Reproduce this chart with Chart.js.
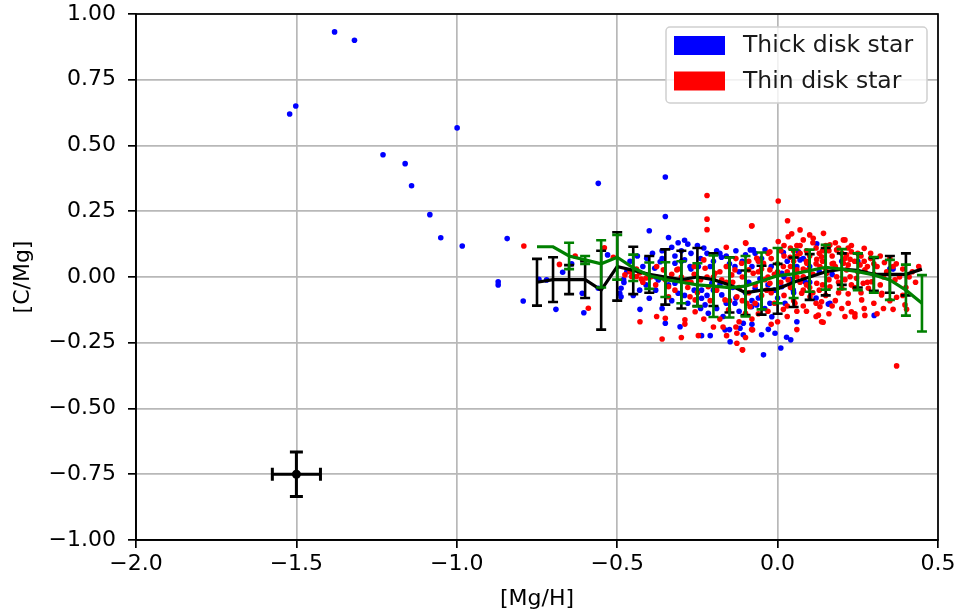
<!DOCTYPE html>
<html>
<head>
<meta charset="utf-8">
<script src="https://cdn.jsdelivr.net/npm/chart.js@4.4.1/dist/chart.umd.min.js"></script>
<style>
html,body{margin:0;padding:0;background:#fff;}
canvas{display:block;}
</style>
</head>
<body>
<canvas id="c" width="958" height="616"></canvas>
<script>
// ---------- data ----------
const seriesLabels = ["Thick disk star", "Thin disk star"];
const xTicks = [-2.0, -1.5, -1.0, -0.5, 0.0, 0.5];
const yTicks = [-1.00, -0.75, -0.50, -0.25, 0.00, 0.25, 0.50, 0.75, 1.00];

// thick disk stars [ [Mg/H], [C/Mg] ]
const thickDisk = [
[-1.381,0.932],[-1.319,0.900],[-1.502,0.650],[-1.521,0.620],[-0.999,0.567],[-1.230,0.465],[-1.161,0.431],
[-1.141,0.347],[-1.084,0.237],[-1.050,0.149],[-0.983,0.118],[-0.843,0.146],[-0.871,-0.018],[-0.871,-0.030],
[-0.793,-0.091],[-0.691,-0.123],[-0.670,0.018],[-0.744,-0.009],[-0.720,-0.011],
[-0.559,0.356],[-0.400,0.176],[-0.530,0.084],[-0.437,0.080],[-0.642,0.050],[-0.609,-0.062],[-0.604,-0.136],
[-0.559,-0.043],[-0.488,-0.043],[-0.488,-0.075],[-0.480,-0.010],[-0.492,-0.062],[-0.479,-0.021],[-0.429,-0.123],
[-0.400,-0.081],[-0.408,0.071],[-0.383,0.033],
[-0.35,0.38],[-0.35,0.23],[-0.34,0.15],[-0.28,0.125],[-0.30,0.10],[-0.33,0.113],[-0.22,0.09],[-0.18,0.09],
[-0.175,0.075],[-0.085,0.103],[-0.10,0.084],[-0.36,0.07],[-0.366,0.058],[-0.32,0.052],[-0.29,0.065],[-0.273,0.04],
[-0.247,0.04],[-0.133,0.04],[-0.205,-0.024],[-0.372,-0.011],[-0.32,-0.024],[-0.31,-0.062],[-0.237,-0.05],
[-0.226,-0.106],[-0.237,-0.081],[-0.174,-0.068],[-0.133,-0.1],[-0.081,-0.113],[-0.216,-0.138],[-0.35,-0.176],
[-0.304,-0.189],[-0.164,-0.201],[-0.117,-0.195],[-0.107,-0.176],[-0.237,-0.223],[-0.21,-0.223],[-0.148,-0.246],
[-0.107,-0.22],
[0.122,0.126],[-0.076,0.103],[-0.039,0.103],[0.018,0.093],[0.065,0.096],[0.07,0.065],[0.013,0.014],[-0.055,-0.007],
[0.085,-0.018],[-0.07,-0.043],[0.013,-0.037],[0.049,-0.05],[0.163,-0.1],[-0.065,-0.106],[-0.024,-0.1],[-0.018,-0.151],
[0.023,-0.1],[-0.029,-0.199],[-0.008,-0.214],[0.028,-0.229],[0.041,-0.239],[-0.044,-0.296],[0.158,-0.103],
[0.35,0.031],[0.301,-0.146],
[-0.25,0.12],[-0.27,0.09],[-0.31,0.13],[-0.29,0.14],[-0.23,0.11],[-0.2,0.06],[-0.15,0.05],[-0.12,0.02],[-0.09,-0.02],
[-0.14,-0.04],[-0.18,-0.03],[-0.22,-0.07],[-0.26,-0.05],[-0.28,-0.1],[-0.33,-0.09],[-0.36,-0.12],[-0.19,-0.12],
[-0.12,-0.13],[-0.06,-0.08],[-0.04,-0.12],[0.0,-0.08],[0.04,-0.01],[0.06,0.04],[0.1,-0.02],[0.13,0.02],[-0.02,0.04],
[-0.07,0.09],[0.03,0.06],[0.17,0.01],[0.12,-0.08],[0.25,0.06],[-0.17,-0.15],[-0.08,-0.18],[-0.05,-0.22],[0.06,-0.17],
[0.01,-0.27],[-0.15,-0.2],[-0.45,-0.07],[-0.46,0.06],[-0.41,-0.03],[-0.39,0.09],[-0.38,-0.05],[-0.36,0.1],[-0.42,0.04],
[-0.32,0.08],[-0.3,0.06],[-0.27,0.03],[-0.24,0.07],[-0.21,0.04],[-0.19,0.1],[-0.16,0.08],[-0.13,0.1],[-0.11,0.06],
[-0.08,0.04],[-0.05,0.07],[-0.03,-0.03],[-0.1,-0.06],[-0.13,-0.08],[-0.16,-0.1],[-0.2,-0.05],[-0.24,-0.12],[-0.29,-0.07],
[-0.34,-0.03],[-0.38,0.0],[-0.43,-0.05],[-0.47,0.02],[0.02,0.0],[0.05,-0.06],[0.08,0.07],[0.1,0.04],[-0.01,-0.05],
[-0.08,-0.09],[0.2,0.06],[0.36,0.03]
];

// thin disk stars
const thinDisk = [
[-0.791,0.118],[-0.680,0.048],[-0.631,0.080],[-0.540,0.111],[-0.512,0.075],[-0.590,-0.119],[-0.429,-0.170],
[-0.22,0.31],[-0.22,0.22],[-0.22,0.18],[-0.16,0.113],[-0.10,0.13],[-0.08,0.195],[-0.377,0.04],[-0.356,0.027],
[-0.314,0.027],[-0.23,0.065],[-0.226,0.033],[-0.133,0.027],[-0.112,0.052],[-0.143,0.008],[-0.09,0.027],[-0.195,0.014],
[-0.174,-0.011],[-0.216,-0.037],[-0.34,-0.037],[-0.283,-0.018],[-0.34,-0.075],[-0.273,-0.075],[-0.257,-0.087],
[-0.164,-0.087],[-0.127,-0.075],[-0.096,-0.1],[-0.153,-0.125],[-0.10,-0.138],[-0.257,-0.132],[-0.377,-0.15],
[-0.35,-0.157],[-0.289,-0.163],[-0.289,-0.179],[-0.127,-0.214],[-0.247,-0.223],[-0.30,-0.23],[-0.36,-0.236],
[-0.127,-0.252],[-0.11,-0.277],[-0.159,-0.223],
[-0.476,0.008],[-0.455,0.002],[-0.44,0.002],[-0.425,-0.008],[-0.41,-0.004],[-0.395,0.001],[-0.46,0.02],[-0.43,0.015],
[0.002,0.289],[0.031,0.214],[0.07,0.179],[-0.081,0.194],[0.002,0.135],[0.033,0.153],[0.044,0.164],[0.08,0.141],
[0.111,0.147],[0.143,0.166],[0.205,0.141],[0.163,0.122],[0.184,0.103],[-0.024,0.096],[0.039,0.075],[0.122,0.067],
[0.137,0.077],[0.091,0.052],[-0.065,0.071],[-0.044,0.052],[-0.024,0.027],[0.018,0.04],[0.06,0.027],[0.096,0.027],
[0.132,0.04],[0.174,0.052],[0.205,0.052],[0.215,0.027],[0.153,0.014],[0.184,0.001],[-0.076,0.014],[0.033,-0.011],
[0.08,0.001],[0.122,-0.024],[-0.024,-0.024],[-0.034,-0.05],[0.075,-0.062],[0.163,-0.037],[0.20,-0.043],[0.137,-0.094],
[0.132,-0.113],[0.127,-0.145],[0.137,-0.17],[-0.086,-0.113],[0.054,-0.1],[0.018,-0.123],[-0.078,-0.201],[0.08,-0.05],
[0.101,-0.075],[0.142,-0.172],[-0.109,-0.277],[-0.081,-0.2],[-0.099,0.128],
[0.27,0.109],[0.21,0.141],[0.23,0.096],[0.215,0.084],[0.226,0.067],[0.22,0.046],[0.257,0.046],[0.333,0.055],
[0.272,0.027],[0.226,0.001],[0.246,-0.005],[0.267,-0.024],[0.283,-0.043],[0.293,-0.018],[0.324,-0.068],[0.23,-0.03],
[0.22,-0.064],[0.262,-0.087],[0.371,-0.077],[0.36,-0.123],[0.397,-0.106],[0.402,-0.123],[0.23,-0.132],[0.241,-0.14],
[0.241,-0.151],[0.272,-0.146],[0.371,-0.338],[0.366,-0.011],[0.325,-0.062],
[-0.06,0.06],[-0.05,0.03],[-0.04,-0.01],[-0.02,0.07],[-0.01,0.01],[0.0,0.05],[0.01,-0.02],[0.02,0.08],[0.03,0.02],
[0.04,-0.04],[0.05,0.06],[0.06,0.0],[0.07,0.09],[0.08,0.03],[0.09,-0.03],[0.10,0.08],[0.11,0.01],[0.12,0.05],
[0.13,-0.05],[0.14,0.1],[0.15,0.03],[0.16,-0.01],[0.17,0.08],[0.18,0.04],[0.19,-0.02],[0.20,0.09],[0.21,-0.01],
[0.22,0.11],[0.24,0.06],[0.25,0.02],[0.26,0.08],[0.28,0.04],[0.29,0.07],[0.30,0.01],[0.31,0.04],[0.32,-0.03],
[0.34,0.02],[0.36,0.04],[0.38,0.0],[0.40,-0.04],[0.42,0.02],[0.06,0.12],[0.09,0.1],[0.12,0.11],[0.15,0.12],
[0.18,0.13],[0.10,0.16],[0.05,0.1],[0.02,0.12],[-0.03,0.09],[-0.07,-0.03],[-0.05,-0.07],[-0.02,-0.06],[0.02,-0.07],
[0.05,-0.09],[0.08,-0.11],[0.11,-0.06],[0.15,-0.07],[0.18,-0.09],[0.22,-0.1],[0.26,-0.06],[0.3,-0.1],[0.33,-0.12],
[0.16,-0.14],[0.2,-0.12],[-0.12,-0.04],[-0.14,-0.02],[-0.16,0.04],[-0.18,0.02],[-0.19,-0.05],[-0.2,0.0],[-0.24,-0.01],
[-0.26,0.01],[-0.28,-0.04],[-0.3,0.0],[-0.32,-0.05],[-0.11,0.0],[-0.09,0.06],[-0.13,0.07],[-0.15,-0.09],[-0.12,-0.17],
[-0.08,-0.16],[-0.06,-0.14],[-0.03,-0.13],[0.0,-0.17],[0.03,-0.15],[0.06,-0.13],[-0.10,-0.23],[-0.13,-0.19],
[-0.18,-0.16],[-0.2,-0.19],[-0.42,-0.02],[-0.44,0.03],[-0.35,-0.01],[-0.31,0.03],[-0.26,0.04],
[0.01,0.1],[0.04,0.11],[0.07,0.12],[0.11,0.13],[0.13,0.09],[0.16,0.1],[0.19,0.11],[0.21,0.07],[0.23,0.12],[0.25,0.09],
[0.27,0.06],[0.3,0.05],[0.32,0.08],[0.35,0.07],[0.37,0.05],[0.39,0.03],[0.41,0.0],[0.43,-0.02],[0.44,0.04],[0.33,0.0],
[0.28,-0.02],[0.24,-0.04],[0.19,-0.06],[0.14,-0.03],[0.1,-0.04],[0.07,-0.02],[0.04,0.04],[0.0,0.02],[-0.03,0.0],
[-0.06,0.02],[-0.09,-0.06],[-0.11,-0.09],[-0.07,-0.1],[-0.01,-0.1],[0.03,-0.11],[0.09,-0.13],[0.12,-0.1],[0.17,-0.11],
[0.21,-0.15],[0.27,-0.12],[0.31,-0.14],[0.35,-0.09],[0.39,-0.07],[0.29,0.09],[0.17,0.05],[0.14,0.06],[0.09,0.06],
[0.06,0.08],[0.12,-0.15],[0.06,-0.2],[-0.02,-0.18],[-0.16,-0.02],[-0.22,0.0],[-0.27,-0.02],[-0.33,0.01],[-0.38,-0.03],
[-0.25,-0.06],[-0.21,-0.09],[-0.17,-0.19],[-0.23,-0.16]
];

// binned trends
const binX = [-0.75,-0.70,-0.65,-0.60,-0.55,-0.50,-0.45,-0.40,-0.35,-0.30,-0.25,-0.20,-0.15,-0.10,-0.05,0.00,0.05,0.10,0.15,0.20,0.25,0.30,0.35,0.40,0.45];
const blackMean = [-0.02,-0.01,-0.01,-0.01,-0.05,0.04,0.025,0.01,0.00,-0.01,0.00,-0.01,-0.03,-0.06,-0.05,-0.045,-0.02,0.00,0.02,0.03,0.025,0.01,0.01,0.01,0.03];
const blackErr  = [0.089,0.085,0.055,0.07,0.15,0.13,0.09,0.07,0.105,0.11,0.11,0.10,0.105,0.085,0.093,0.095,0.094,0.087,0.09,0.06,0.065,0.062,0.07,0.08,null];
const greenMean = [0.115,0.115,0.08,0.065,0.05,0.075,0.035,0.005,-0.01,-0.02,-0.03,-0.035,-0.04,-0.035,-0.015,0.005,0.012,0.024,0.037,0.03,0.02,0.008,-0.011,-0.05,-0.10];
const greenErr  = [null,null,0.05,0.015,0.09,0.085,0.05,0.05,0.066,0.08,0.082,0.117,0.114,0.115,0.108,0.105,0.092,0.08,0.085,0.076,0.07,0.068,0.076,0.097,0.107];

// typical uncertainty marker
const refPoint = [-1.5, -0.75];
const refXErr = 0.075;
const refYErr = 0.085;

// ---------- helpers ----------
const FONT = "'DejaVu Sans', sans-serif";
const fmt = (v, d) => {
  if (Math.abs(v) < 1e-9) v = 0;
  return v.toFixed(d).replace('-', '\u2212');
};
const toPts = arr => arr.map(p => ({x: p[0], y: p[1]}));
const linePts = (xs, ys) => xs.map((x, i) => ({x: x, y: ys[i]}));

function drawYErr(ctx, xs, ys, es, sx, sy, color, lw, cap) {
  ctx.save();
  ctx.strokeStyle = color; ctx.lineWidth = lw; ctx.lineCap = 'butt';
  xs.forEach((x, i) => {
    const e = es[i];
    if (e === null || e === undefined) return;
    const px = sx.getPixelForValue(x);
    const t = sy.getPixelForValue(ys[i] + e);
    const b = sy.getPixelForValue(ys[i] - e);
    ctx.beginPath();
    ctx.moveTo(px, t); ctx.lineTo(px, b);
    ctx.moveTo(px - cap, t); ctx.lineTo(px + cap, t);
    ctx.moveTo(px - cap, b); ctx.lineTo(px + cap, b);
    ctx.stroke();
  });
  ctx.restore();
}

const decorPlugin = {
  id: 'decor',
  afterDatasetDraw(chart, args) {
    const ctx = chart.ctx, sx = chart.scales.x, sy = chart.scales.y;
    const lbl = chart.data.datasets[args.index].label;
    if (lbl === 'black') drawYErr(ctx, binX, blackMean, blackErr, sx, sy, '#000', 2.6, 5);
    if (lbl === 'green') drawYErr(ctx, binX, greenMean, greenErr, sx, sy, '#008000', 2.6, 5);
    if (lbl === 'ref') {
      const px = sx.getPixelForValue(refPoint[0]), py = sy.getPixelForValue(refPoint[1]);
      const l = sx.getPixelForValue(refPoint[0] - refXErr), r = sx.getPixelForValue(refPoint[0] + refXErr);
      const t = sy.getPixelForValue(refPoint[1] + refYErr), b = sy.getPixelForValue(refPoint[1] - refYErr);
      ctx.save();
      ctx.strokeStyle = '#000'; ctx.lineWidth = 3;
      ctx.beginPath();
      ctx.moveTo(l, py); ctx.lineTo(r, py);
      ctx.moveTo(px, t); ctx.lineTo(px, b);
      ctx.moveTo(l, py - 6.5); ctx.lineTo(l, py + 6.5);
      ctx.moveTo(r, py - 6.5); ctx.lineTo(r, py + 6.5);
      ctx.moveTo(px - 6.5, t); ctx.lineTo(px + 6.5, t);
      ctx.moveTo(px - 6.5, b); ctx.lineTo(px + 6.5, b);
      ctx.stroke();
      ctx.restore();
    }
  },
  afterDatasetsDraw(chart) {
    const ctx = chart.ctx, a = chart.chartArea;
    // frame
    ctx.save();
    ctx.strokeStyle = '#000'; ctx.lineWidth = 1.7;
    ctx.strokeRect(a.left, a.top, a.right - a.left, a.bottom - a.top);
    ctx.restore();
    // legend
    const bx = a.right - 272, by = a.top + 13, bw = 261, bh = 76;
    ctx.save();
    ctx.fillStyle = 'rgba(255,255,255,0.8)';
    ctx.strokeStyle = '#d0d0d0'; ctx.lineWidth = 1.5;
    ctx.beginPath();
    ctx.roundRect(bx, by, bw, bh, 4);
    ctx.fill(); ctx.stroke();
    const colors = ['#0000ff', '#ff0000'];
    ctx.font = "23.5px " + FONT;
    ctx.textBaseline = 'middle';
    ctx.textAlign = 'left';
    seriesLabels.forEach((s, i) => {
      const yy = by + 9 + i * 35.5;
      ctx.fillStyle = colors[i];
      ctx.fillRect(bx + 8, yy, 51, 19);
      ctx.fillStyle = '#1a1a1a';
      ctx.fillText(s, bx + 77, yy + 10);
    });
    ctx.restore();
  }
};

new Chart(document.getElementById('c'), {
  type: 'scatter',
  data: {
    datasets: [
      {label: 'ref', data: [{x: refPoint[0], y: refPoint[1]}], backgroundColor: '#000', pointRadius: 4.5, borderWidth: 0, order: 0},
      {label: 'green', type: 'line', data: linePts(binX, greenMean), borderColor: '#008000', borderWidth: 3.2, pointRadius: 0, fill: false, tension: 0, order: 1},
      {label: 'black', type: 'line', data: linePts(binX, blackMean), borderColor: '#000', borderWidth: 3.2, pointRadius: 0, fill: false, tension: 0, order: 2},
      {label: seriesLabels[1], data: toPts(thinDisk), backgroundColor: '#ff0000', pointRadius: 2.8, borderWidth: 0, order: 3},
      {label: seriesLabels[0], data: toPts(thickDisk), backgroundColor: '#0000ff', pointRadius: 2.8, borderWidth: 0, order: 4}
    ]
  },
  options: {
    responsive: false,
    animation: false,
    devicePixelRatio: 1,
    events: [],
    layout: {padding: {left: 0, right: 20, top: 14, bottom: 0}},
    plugins: {legend: {display: false}, tooltip: {enabled: false}},
    scales: {
      x: {
        type: 'linear', min: xTicks[0], max: xTicks[xTicks.length - 1],
        afterFit: s => { s.height = 76; s.paddingLeft = 0; s.paddingRight = 0; },
        afterBuildTicks: s => { s.ticks = xTicks.map(v => ({value: v})); },
        ticks: {callback: v => fmt(v, 1), color: '#000', font: {family: FONT, size: 22}, padding: 3, maxRotation: 0, autoSkip: false},
        grid: {color: '#b8b8b8', lineWidth: 1.7, tickColor: '#000', tickLength: 8, tickWidth: 1.7},
        border: {color: '#000', width: 1.7},
        title: {display: true, text: '[Mg/H]', color: '#000', font: {family: FONT, size: 22}, padding: {top: 0, bottom: 4}}
      },
      y: {
        type: 'linear', min: yTicks[0], max: yTicks[yTicks.length - 1],
        afterFit: s => { s.width = 136; s.paddingTop = 0; s.paddingBottom = 0; },
        afterBuildTicks: s => { s.ticks = yTicks.map(v => ({value: v})); },
        ticks: {callback: v => fmt(v, 2), color: '#000', font: {family: FONT, size: 22}, padding: 12, autoSkip: false},
        grid: {color: '#b8b8b8', lineWidth: 1.7, tickColor: '#000', tickLength: 8, tickWidth: 1.7},
        border: {color: '#000', width: 1.7},
        title: {display: true, text: '[C/Mg]', color: '#000', font: {family: FONT, size: 22}, padding: {top: 10, bottom: 0}}
      }
    }
  },
  plugins: [decorPlugin]
});
</script>
</body>
</html>
